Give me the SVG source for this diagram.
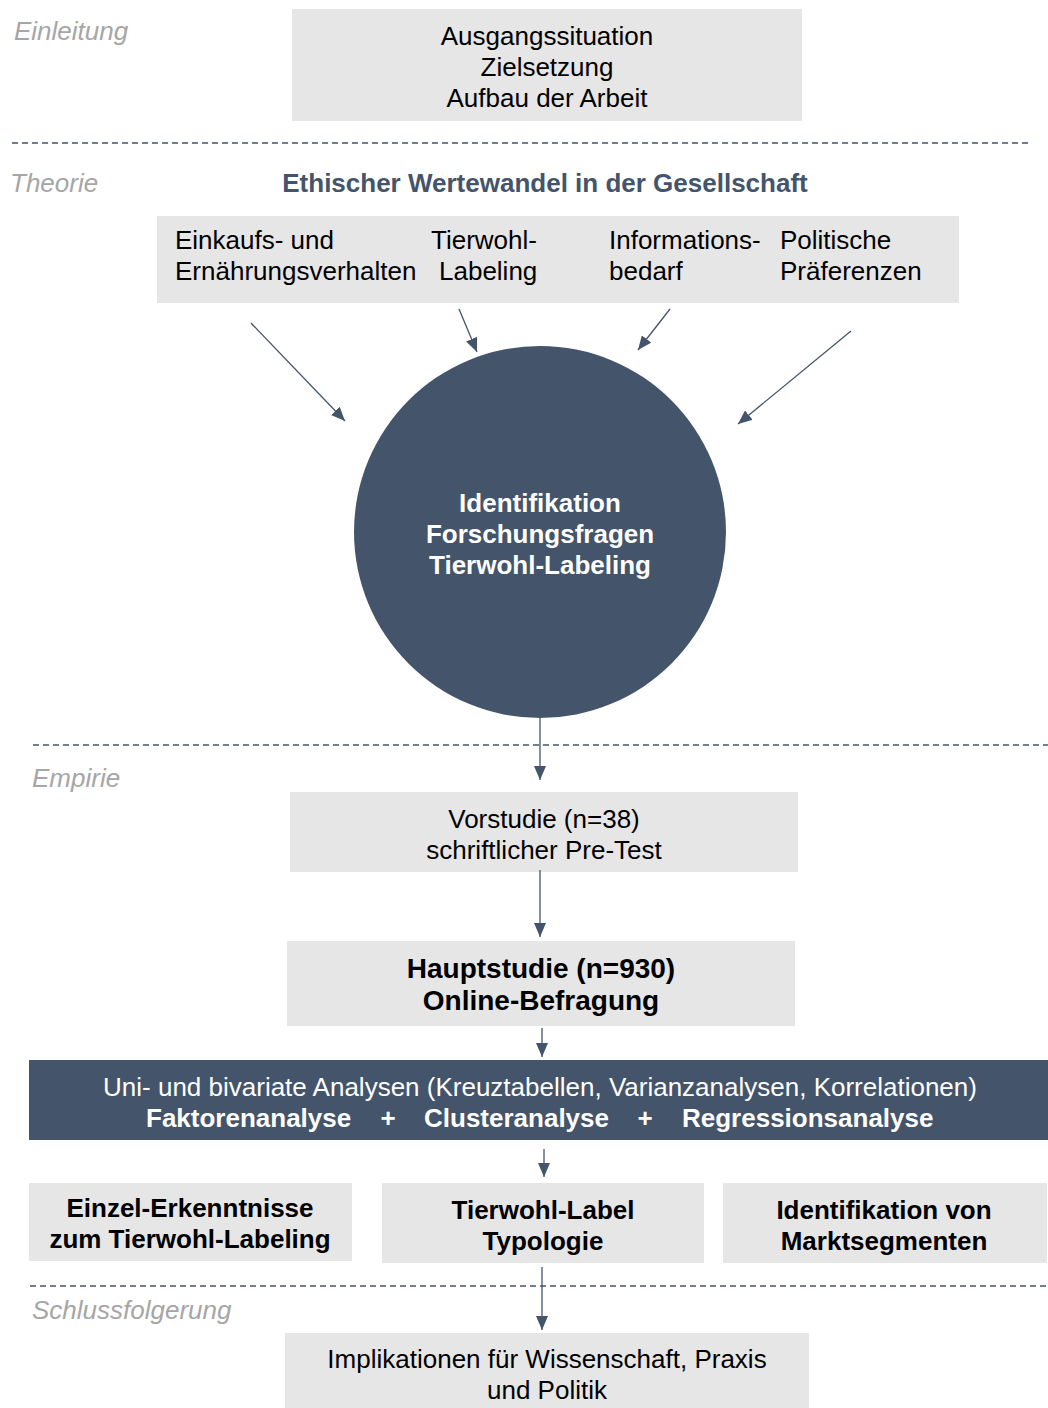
<svg xmlns="http://www.w3.org/2000/svg" width="1048" height="1408" viewBox="0 0 1048 1408">
<defs>
<marker id="ah" viewBox="0 0 14 12" refX="14" refY="6" markerWidth="14" markerHeight="12" markerUnits="userSpaceOnUse" orient="auto">
<path d="M0,0 L14,6 L0,12 Z" fill="#44546a"/>
</marker>
<style>
.box{fill:#e7e6e6}
.dark{fill:#44546a}
.t{font-family:"Liberation Sans",Arial,sans-serif;font-size:26px;fill:#000}
.c{text-anchor:middle}
.b{font-weight:bold}
.w{fill:#fff}
.sec{font-family:"Liberation Sans",Arial,sans-serif;font-size:26px;font-style:italic;fill:#a6a6a6}
.dash{stroke:#44546a;stroke-width:1.3;stroke-dasharray:6 4;fill:none}
.con{stroke:#44546a;stroke-width:1.3;fill:none;marker-end:url(#ah)}
</style>
</defs>

<g id="sections">
<line class="dash" x1="12" y1="143" x2="1028" y2="143"/>
<line class="dash" x1="33" y1="745" x2="1048" y2="745"/>
<line class="dash" x1="30" y1="1286" x2="1048" y2="1286"/>
<text class="sec" x="14" y="40">Einleitung</text>
<text class="sec" x="10" y="192">Theorie</text>
<text class="sec" x="32" y="787">Empirie</text>
<text class="sec" x="32" y="1319">Schlussfolgerung</text>
</g>

<g id="einleitung">
<rect class="box" x="292" y="9" width="510" height="112"/>
<text class="t c" x="547" y="45">Ausgangssituation</text>
<text class="t c" x="547" y="76">Zielsetzung</text>
<text class="t c" x="547" y="107">Aufbau der Arbeit</text>
</g>

<g id="theorie-titel">
<text class="t c b" x="545" y="192" style="fill:#44546a">Ethischer Wertewandel in der Gesellschaft</text>
</g>

<g id="theorie-box">
<rect class="box" x="157" y="216" width="802" height="87"/>
<text class="t" x="175" y="249">Einkaufs- und</text>
<text class="t" x="175" y="280">Ernährungsverhalten</text>
<text class="t" x="431" y="249">Tierwohl-</text>
<text class="t" x="439" y="280">Labeling</text>
<text class="t" x="609" y="249">Informations-</text>
<text class="t" x="609" y="280">bedarf</text>
<text class="t" x="780" y="249">Politische</text>
<text class="t" x="780" y="280">Präferenzen</text>
</g>

<g id="kreis">
<circle class="dark" cx="540" cy="532" r="186"/>
<text class="t c b w" x="540" y="512">Identifikation</text>
<text class="t c b w" x="540" y="543">Forschungsfragen</text>
<text class="t c b w" x="540" y="574">Tierwohl-Labeling</text>
</g>

<g id="vorstudie">
<rect class="box" x="290" y="792" width="508" height="80"/>
<text class="t c" x="544" y="828">Vorstudie (n=38)</text>
<text class="t c" x="544" y="859">schriftlicher Pre-Test</text>
</g>

<g id="hauptstudie">
<rect class="box" x="287" y="941" width="508" height="85"/>
<text class="t c b" x="541" y="978" style="font-size:28px">Hauptstudie (n=930)</text>
<text class="t c b" x="541" y="1010" style="font-size:28px">Online-Befragung</text>
</g>

<g id="analysen">
<rect class="dark" x="29" y="1060" width="1019" height="80"/>
<text class="t c w" x="540" y="1096">Uni- und bivariate Analysen (Kreuztabellen, Varianzanalysen, Korrelationen)</text>
<text class="t b w" x="146" y="1127">Faktorenanalyse</text>
<text class="t b w c" x="388" y="1127">+</text>
<text class="t b w" x="424" y="1127">Clusteranalyse</text>
<text class="t b w c" x="645" y="1127">+</text>
<text class="t b w" x="682" y="1127">Regressionsanalyse</text>
</g>

<g id="einzel">
<rect class="box" x="29" y="1183" width="323" height="78"/>
<text class="t c b" x="190" y="1217">Einzel-Erkenntnisse</text>
<text class="t c b" x="190" y="1248">zum Tierwohl-Labeling</text>
</g>

<g id="typologie">
<rect class="box" x="382" y="1183" width="322" height="80"/>
<text class="t c b" x="543" y="1219">Tierwohl-Label</text>
<text class="t c b" x="543" y="1250">Typologie</text>
</g>

<g id="segmente">
<rect class="box" x="723" y="1183" width="324" height="80"/>
<text class="t c b" x="884" y="1219">Identifikation von</text>
<text class="t c b" x="884" y="1250">Marktsegmenten</text>
</g>

<g id="implikationen">
<rect class="box" x="285" y="1333" width="524" height="75"/>
<text class="t c" x="547" y="1368">Implikationen für Wissenschaft, Praxis</text>
<text class="t c" x="547" y="1399">und Politik</text>
</g>

<g id="connectors">
<line class="con" x1="251" y1="323" x2="345" y2="421"/>
<line class="con" x1="459" y1="309" x2="477" y2="352"/>
<line class="con" x1="670" y1="309" x2="638" y2="350"/>
<line class="con" x1="851" y1="331" x2="738" y2="424"/>
<line class="con" x1="540" y1="718" x2="540" y2="780"/>
<line class="con" x1="540" y1="870" x2="540" y2="937"/>
<line class="con" x1="542" y1="1028" x2="542" y2="1057"/>
<line class="con" x1="544" y1="1149" x2="544" y2="1177"/>
<line class="con" x1="542" y1="1267" x2="542" y2="1330"/>
</g>
</svg>
